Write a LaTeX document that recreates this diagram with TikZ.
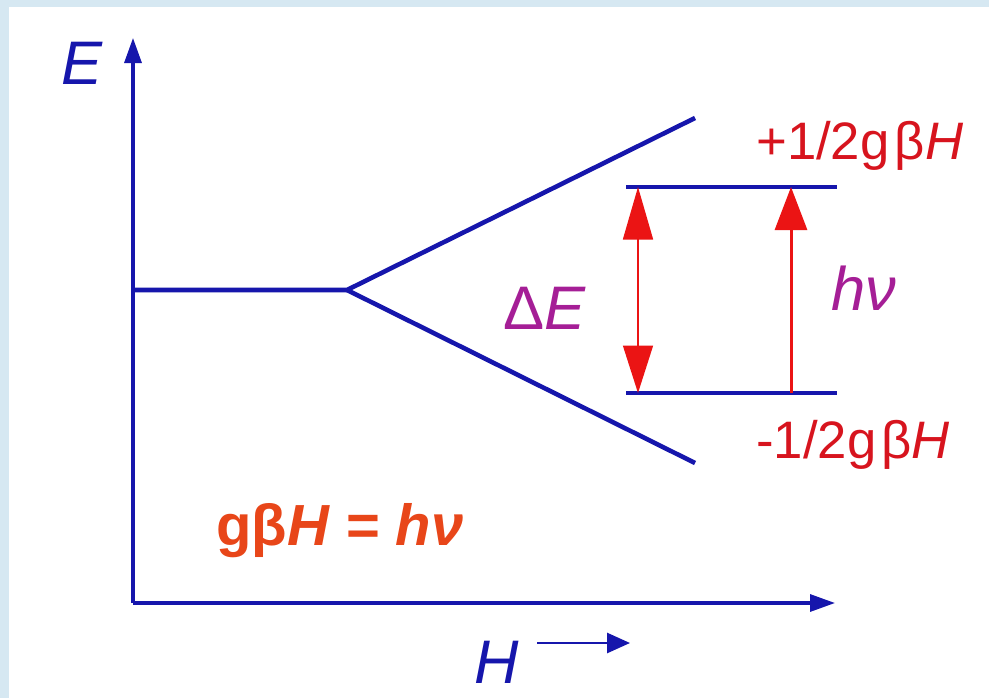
\documentclass[tikz,border=0pt]{standalone}
\usepackage{fontspec}
\setmainfont{Liberation Sans}
\usetikzlibrary{arrows.meta}

\definecolor{levelblue}{RGB}{22,22,172}
\definecolor{arrowred}{RGB}{235,20,20}
\definecolor{labelred}{RGB}{215,20,30}
\definecolor{eqorange}{RGB}{232,70,25}
\definecolor{labelpurple}{RGB}{165,30,150}
\definecolor{framebg}{RGB}{214,232,242}

\begin{document}
\begin{tikzpicture}[line join=round, >={Triangle[length=0.5cm,width=0.34cm]},
	axis/.style={levelblue, line width=1.8pt, ->},
	level/.style={levelblue, line width=2.6pt},
	big/.style={font=\fontsize{35}{40}\selectfont},
	mid/.style={font=\fontsize{30}{34}\selectfont}]
	
	\fill[framebg] (-2.66,-1.9) rectangle (17.12,12.06);
	\fill[white] (-2.48,-1.9) rectangle (17.12,11.92);
	\useasboundingbox (-2.66,-1.9) rectangle (17.12,12.06);
	
	% axes
	\coordinate (O) at (0,0);
	\coordinate (Etop) at (0,11.3);
	\coordinate (Hend) at (14.04,0);
	\draw[axis] (O) -- (Etop);
	\draw[axis] (O) -- (Hend);
	\node[levelblue, big] (Elab) at (-1.02,10.8) {\textit{E}};
	\node[levelblue, big] (Hlab) at (7.28,-1.18) {\textit{H}};
	\coordinate (Hfrom) at (8.08,-0.8);
	\coordinate (Hto) at (9.94,-0.8);
	\draw[levelblue, line width=1.6pt, -{Triangle[length=0.46cm,width=0.4cm]}] (Hfrom) -- (Hto);
	
	% Zeeman splitting
	\coordinate (zero) at (0,6.26);
	\coordinate (split) at (4.28,6.26);
	\coordinate (up) at (11.24,9.7);
	\coordinate (down) at (11.24,2.8);
	\draw[level] (zero) -- (split) -- (up);
	\draw[level] (split) -- (down);
	
	% the two levels
	\coordinate (alphaW) at (9.86,8.32);
	\coordinate (alphaE) at (14.08,8.32);
	\coordinate (betaW) at (9.86,4.2);
	\coordinate (betaE) at (14.08,4.2);
	\draw[level] (alphaW) -- (alphaE);
	\draw[level] (betaW) -- (betaE);
	
	% transitions
	\coordinate (dEtop) at (10.1,8.32);
	\coordinate (dEbot) at (10.1,4.2);
	\coordinate (hnuTop) at (13.16,8.32);
	\coordinate (hnuBot) at (13.16,4.2);
	\draw[arrowred, line width=0.9pt, {Triangle[length=1.05cm,width=0.6cm]}-{Triangle[length=0.95cm,width=0.6cm]}] (dEtop) -- (dEbot);
	\draw[arrowred, line width=1.7pt, -{Triangle[length=0.86cm,width=0.64cm]}] (hnuBot) -- (hnuTop);
	
	\node[labelred, mid, anchor=base west] (plus) at (12.34,8.88) {+1/2g\kern3pt β\textit{H}};
	\node[labelred, mid, anchor=base west] (minus) at (12.34,2.9) {-1/2g\kern3pt β\textit{H}};
	\node[labelpurple, big] (dE) at (8.24,5.9) {Δ\textit{E}};
	\node[labelpurple, big] (hnu) at (14.62,6.3) {\textit{hν}};
	\node[eqorange, font=\fontsize{33}{38}\selectfont\bfseries, anchor=base west] (eq) at (1.54,1.16) {gβ\textit{H} = \textit{hν}};
\end{tikzpicture}
\end{document}
